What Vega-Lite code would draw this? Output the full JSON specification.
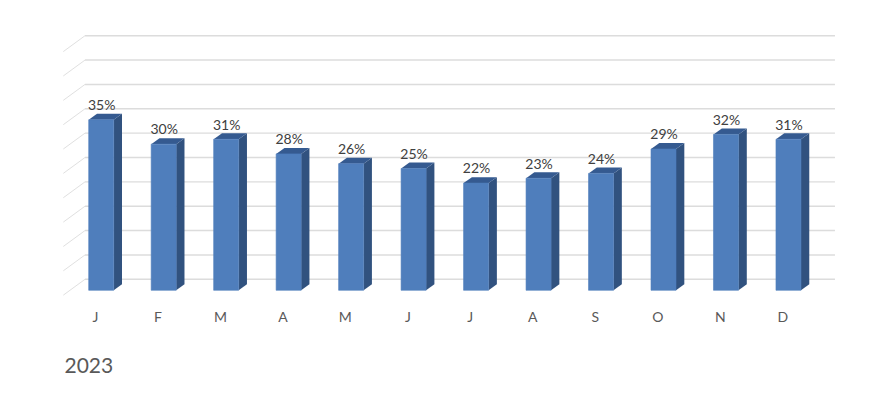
{
"$schema":"https://vega.github.io/schema/vega-lite/v6.json",
"width":881,"height":406,"padding":0,"autosize":{"type":"none"},
"background":"white",
"config":{"view":{"stroke":null},"font":"Lato"},
"datasets":{
"months":[
{"month":"J","idx":0,"value":35},{"month":"F","idx":1,"value":30},{"month":"M","idx":2,"value":31},{"month":"A","idx":3,"value":28},
{"month":"M","idx":4,"value":26},{"month":"J","idx":5,"value":25},{"month":"J","idx":6,"value":22},{"month":"A","idx":7,"value":23},
{"month":"S","idx":8,"value":24},{"month":"O","idx":9,"value":29},{"month":"N","idx":10,"value":32},{"month":"D","idx":11,"value":31}],
"levels":[{"level":0},{"level":5},{"level":10},{"level":15},{"level":20},{"level":25},{"level":30},{"level":35},{"level":40},{"level":45},{"level":50}]
},
"layer":[
{"data":{"name":"levels"},
 "transform":[{"calculate":"-0.059","as":"wx0"},{"calculate":"11.944","as":"wx1"},{"calculate":"datum.level+2.26","as":"wy"}],
 "mark":{"type":"rule","stroke":"#dcdcdc","strokeWidth":1.4},
 "encoding":{
  "x":{"field":"wx0","type":"quantitative","scale":{"domain":[-1.4197,12.681],"nice":false,"zero":false},
   "axis":{"values":[0.1,1.1,2.1,3.1,4.1,5.1,6.1,7.1,8.1,9.1,10.1,11.1],
    "labelExpr":"['J','F','M','A','M','J','J','A','S','O','N','D'][round(datum.value-0.1)]",
    "domain":false,"ticks":false,"grid":false,"offset":-85,"labelPadding":0,"labelFontSize":14,"labelColor":"#595959","labelFont":"Lato","labelBaseline":"alphabetic","labelAngle":0,"labelOverlap":false,
    "title":"2023","titleFontSize":21,"titleFontWeight":"normal","titleColor":"#595959","titleFont":"Lato","titleX":64,"titleY":51,"titleAlign":"left","titleAnchor":"start","titleBaseline":"alphabetic"}},
  "x2":{"field":"wx1"},
  "y":{"field":"wy","type":"quantitative","scale":{"domain":[-23.75,59.59],"nice":false,"zero":false},"axis":null}
 }},
{"data":{"name":"levels"},
 "transform":[{"calculate":"-0.4065","as":"dx0"},{"calculate":"-0.059","as":"dx1"},{"calculate":"datum.level-1","as":"dy0"},{"calculate":"datum.level+2.26","as":"dy1"}],
 "mark":{"type":"rule","stroke":"#e0e0e0","strokeWidth":1},
 "encoding":{"x":{"field":"dx0","type":"quantitative"},"x2":{"field":"dx1"},"y":{"field":"dy0","type":"quantitative","axis":null},"y2":{"field":"dy1"}}},
{"data":{"name":"months"},
 "transform":[{"calculate":"0","as":"c0"},{"calculate":"1","as":"c1"},{"fold":["c0","c1"],"as":["cname","t"]},{"calculate":"datum.idx+0.4+0.133*datum.t","as":"sx"},{"calculate":"datum.value+1.23*datum.t","as":"sy"},{"calculate":"1.23*datum.t","as":"sy2"}],
 "mark":{"type":"area","fill":"#31527f","orient":"vertical"},
 "encoding":{"x":{"field":"sx","type":"quantitative"},"y":{"field":"sy","type":"quantitative","axis":null,"stack":null},"y2":{"field":"sy2"},"detail":{"field":"idx","type":"nominal"}}},
{"data":{"name":"months"},
 "transform":[{"calculate":"0","as":"c0"},{"calculate":"1","as":"c1"},{"calculate":"2","as":"c2"},{"calculate":"3","as":"c3"},{"fold":["c0","c1","c2","c3"],"as":["cname","c"]},{"calculate":"datum.idx+[0,0.133,0.4,0.533][datum.c]","as":"tx"},{"calculate":"datum.value+[0,1.23,1.23,1.23][datum.c]","as":"ty"},{"calculate":"datum.value+[0,0,0,1.23][datum.c]","as":"ty2"}],
 "mark":{"type":"area","fill":"#355a90","orient":"vertical"},
 "encoding":{"x":{"field":"tx","type":"quantitative"},"y":{"field":"ty","type":"quantitative","axis":null,"stack":null},"y2":{"field":"ty2"},"detail":{"field":"idx","type":"nominal"}}},
{"data":{"name":"months"},
 "transform":[{"calculate":"datum.idx+0.4","as":"fx1"},{"calculate":"0","as":"base"}],
 "mark":{"type":"rect","fill":"#4f7ebc","stroke":"#4f7ebc","strokeWidth":0.6},
 "encoding":{"x":{"field":"idx","type":"quantitative"},"x2":{"field":"fx1"},"y":{"field":"value","type":"quantitative","axis":null},"y2":{"field":"base"}}},
{"data":{"name":"months"},
 "transform":[{"calculate":"datum.idx+0.208","as":"lx"},{"calculate":"datum.value+2","as":"ly"},{"calculate":"datum.value+'%'","as":"label"}],
 "mark":{"type":"text","fontSize":14,"font":"Lato","color":"#404040","align":"center","baseline":"alphabetic"},
 "encoding":{"x":{"field":"lx","type":"quantitative"},"y":{"field":"ly","type":"quantitative","axis":null},"text":{"field":"label"}}}
]
}
